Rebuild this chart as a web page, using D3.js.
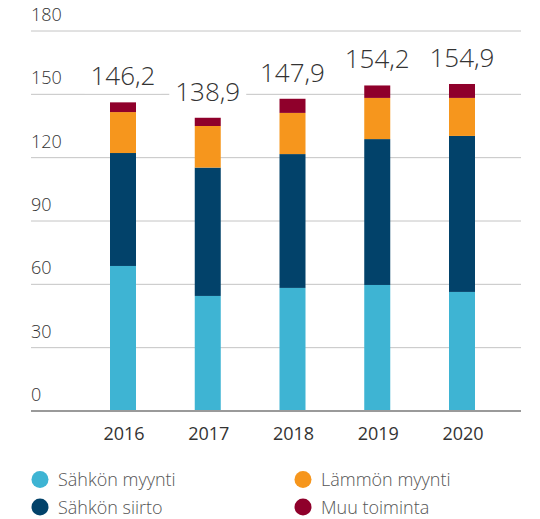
<!DOCTYPE html>
<html><head><meta charset="utf-8">
<script src="https://cdn.jsdelivr.net/npm/d3@7"></script>
<style>body{margin:0;background:#fff}svg{display:block}</style>
</head><body>
<svg id="c" width="540" height="519"></svg>
<script>
const years = ["2016","2017","2018","2019","2020"];
const sahkonMyynti = [68.7, 54.5, 58.3, 59.7, 56.4];
const sahkonSiirto = [53.5, 60.8, 63.4, 69.1, 73.9];
const lammonMyynti = [19.4, 19.7, 19.5, 19.5, 18.0];
const muuToiminta  = [4.6, 3.9, 6.7, 5.9, 6.6];
const totals = ["146,2","138,9","147,9","154,2","154,9"];
const yTicks = [0, 30, 60, 90, 120, 150, 180];
const seriesNames = ["Sähkön myynti","Sähkön siirto","Lämmön myynti","Muu toiminta"];
const colors = ["#3eb4d3","#02426a","#f6961d","#8f002b"];

const svg = d3.select("#c");
const font = "'Open Sans', sans-serif";
const y = d3.scaleLinear().domain([0,180]).range([411,31]);
const x = d3.scalePoint().domain(years).range([123,462]);
const barW = 26;

// gridlines
svg.append("g").selectAll("line").data(yTicks.filter(d=>d>0)).join("line")
  .attr("x1",31).attr("x2",521).attr("y1",d=>y(d)).attr("y2",d=>y(d))
  .attr("stroke","#c4c4c4").attr("stroke-width",1);

// y labels
svg.append("g").selectAll("text").data(yTicks).join("text")
  .attr("x",31).attr("y",d=>y(d)-10)
  .attr("font-family",font).attr("font-size",18).attr("font-weight",300)
  .attr("fill","#333").text(d=>d);

const rows = years.map((yr,i)=>({year:yr, s0:sahkonMyynti[i], s1:sahkonSiirto[i], s2:lammonMyynti[i], s3:muuToiminta[i]}));
const stacked = d3.stack().keys(["s0","s1","s2","s3"])(rows);

svg.append("g").selectAll("g").data(stacked).join("g")
  .attr("fill",(d,i)=>colors[i])
  .selectAll("rect").data(d=>d).join("rect")
  .attr("x",d=>x(d.data.year)-barW/2).attr("width",barW)
  .attr("y",d=>y(d[1])).attr("height",d=>y(d[0])-y(d[1]));

// baseline
svg.append("line").attr("x1",31).attr("x2",521).attr("y1",y(0)).attr("y2",y(0))
  .attr("stroke","#9a9a9a").attr("stroke-width",2);

// total labels
const topLayer = stacked[stacked.length-1];
const tg = svg.append("g");
topLayer.forEach((d,i)=>{
  const g = tg.append("g");
  const t = g.append("text").attr("x",x(d.data.year)).attr("y",y(d[1])-17)
    .attr("text-anchor","middle").attr("font-family",font).attr("font-size",26)
    .attr("font-weight",300).attr("fill","#333").text(totals[i]);
  const bb = t.node().getBBox();
  g.insert("rect","text").attr("x",bb.x-6).attr("y",bb.y).attr("width",bb.width+12)
    .attr("height",bb.height).attr("fill","#fff");
});

// x labels
svg.append("g").selectAll("text").data(years).join("text")
  .attr("x",d=>x(d)+1).attr("y",440).attr("text-anchor","middle")
  .attr("font-family",font).attr("font-size",18).attr("fill","#333").text(d=>d);

// legend
const lg = svg.append("g");
seriesNames.forEach((n,i)=>{
  const col = Math.floor(i/2), row = i%2;
  const lx = 40 + col*263, ly = 479.5 + row*27.5;
  lg.append("circle").attr("cx",lx).attr("cy",ly).attr("r",8.5).attr("fill",colors[i]);
  lg.append("text").attr("x",lx+18).attr("y",ly+6.5).attr("font-family",font)
    .attr("font-size",18).attr("font-weight",300).attr("fill","#555").text(n);
});
</script>
</body></html>
